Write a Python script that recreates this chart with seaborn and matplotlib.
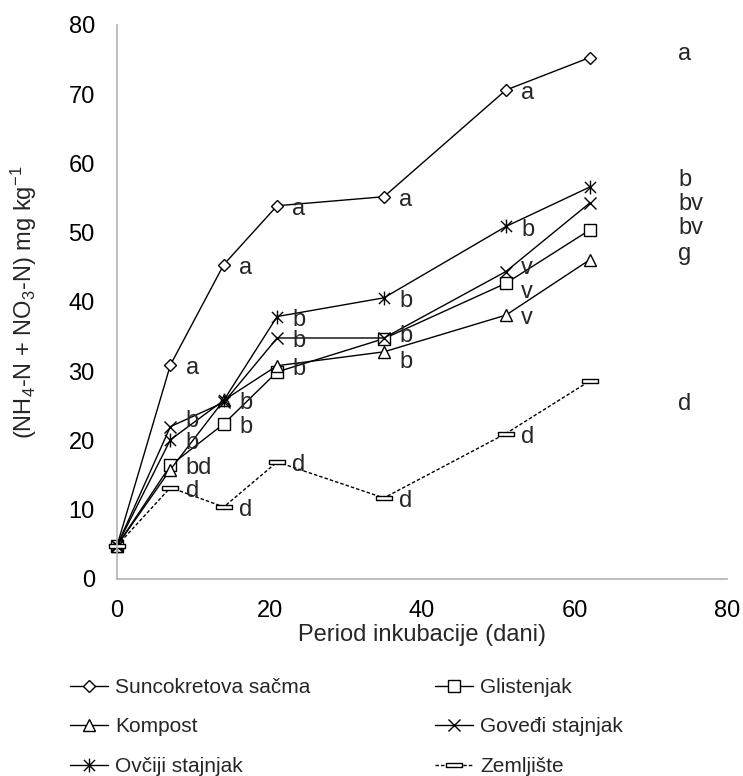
import matplotlib.pyplot as plt
from matplotlib.path import Path
import seaborn as sns

# --- data ---
days = [0, 7, 14, 21, 35, 51, 62]

series_names = ["Suncokretova sačma", "Glistenjak", "Kompost",
                "Goveđi stajnjak", "Ovčiji stajnjak", "Zemljište"]

suncokret = [4.8, 30.9, 45.4, 53.9, 55.2, 70.6, 75.3]
glistenjak = [4.8, 16.4, 22.4, 29.9, 34.7, 42.7, 50.4]
kompost = [4.8, 15.8, 25.8, 30.8, 32.8, 38.1, 46.1]
govedji = [4.8, 22.0, 25.5, 34.8, 34.8, 44.4, 54.3]
ovciji = [4.8, 20.1, 25.8, 37.9, 40.6, 50.9, 56.6]
zemljiste = [4.8, 13.2, 10.4, 16.9, 11.7, 21.0, 28.6]

# significance letters next to the points
letters_suncokret = ["", "a", "a", "a", "a", "a", ""]
letters_glistenjak = ["", "bd", "b", "", "b", "v", ""]
letters_kompost = ["", "", "b", "b", "b", "v", ""]
letters_govedji = ["", "b", "", "b", "", "v", ""]
letters_ovciji = ["", "b", "", "b", "b", "b", ""]
letters_zemljiste = ["", "d", "d", "d", "d", "d", ""]

# letters for the last sampling, written in a column at the right
end_letters = ["a", "b", "bv", "bv", "g", "d"]
end_letter_y = [75.0, 56.7, 53.3, 49.8, 46.1, 24.4]

values = [suncokret, glistenjak, kompost, govedji, ovciji, zemljiste]
letters = [letters_suncokret, letters_glistenjak, letters_kompost,
           letters_govedji, letters_ovciji, letters_zemljiste]

# --- marker shapes ---
asterisk = Path([(-1, -1), (1, 1), (-1, 1), (1, -1), (0, -1.25), (0, 1.25)],
                [Path.MOVETO, Path.LINETO, Path.MOVETO, Path.LINETO,
                 Path.MOVETO, Path.LINETO])
dash_box = Path([(-1, -0.28), (1, -0.28), (1, 0.28), (-1, 0.28), (-1, -0.28)],
                [Path.MOVETO, Path.LINETO, Path.LINETO, Path.LINETO,
                 Path.CLOSEPOLY])

styles = [
    dict(marker="D", markersize=6.5),
    dict(marker="s", markersize=9),
    dict(marker="^", markersize=9),
    dict(marker="x", markersize=8),
    dict(marker=asterisk, markersize=10),
    dict(marker=dash_box, markersize=11, linestyle=(0, (2.5, 1.5))),
]

sns.set_theme(style="white")
plt.rcParams["font.family"] = ["Liberation Sans", "DejaVu Sans"]
plt.rcParams["mathtext.default"] = "regular"

fig, ax = plt.subplots(figsize=(7.43, 7.76), dpi=100)
fig.subplots_adjust(left=0.1575, right=0.9785, top=0.9678, bottom=0.2539)

for name, vals, st in zip(series_names, values, styles):
    sns.lineplot(x=days, y=vals, ax=ax, color="black", linewidth=1.0,
                 markerfacecolor="white", markeredgecolor="black",
                 markeredgewidth=1.0, label=name, clip_on=False, **st)

# per-point letters; a few are shifted (points) so they do not collide
nudge = {(3, 1): 6.5, (3, 5): 5.0, (1, 5): -4.0, (1, 4): 4.0, (2, 4): -5.0}
for i, (vals, labs) in enumerate(zip(values, letters)):
    for j, (d, v, lab) in enumerate(zip(days, vals, labs)):
        if not lab:
            continue
        ax.annotate(lab, (d, v), xytext=(11, -6.5 + nudge.get((i, j), 0)),
                    textcoords="offset points", ha="left", va="baseline",
                    fontsize=17)

for lab, y in zip(end_letters, end_letter_y):
    ax.text(73.6, y, lab, ha="left", va="baseline", fontsize=17)

ax.set_xlim(0, 80)
ax.set_ylim(0, 80)
ax.set_xticks(range(0, 81, 20))
ax.set_yticks(range(0, 81, 10))
ax.tick_params(axis="both", length=0, labelsize=17, colors="black")
ax.tick_params(axis="x", pad=15)
ax.tick_params(axis="y", pad=16)
for side in ["top", "right"]:
    ax.spines[side].set_visible(False)
for side in ["left", "bottom"]:
    ax.spines[side].set_color("#b3b3b3")
    ax.spines[side].set_linewidth(1.2)

ax.set_xlabel("Period inkubacije (dani)", fontsize=17)
ax.set_ylabel("(NH$_4$-N + NO$_3$-N) mg kg$^{-1}$", fontsize=17)
ax.xaxis.set_label_coords(0.5, -0.082)
ax.yaxis.set_label_coords(-0.128, 0.5)

# legend in rows: build column-major order for ncol=2
handles, labels = ax.get_legend_handles_labels()
order = [0, 2, 4, 1, 3, 5]
ax.legend([handles[k] for k in order], [labels[k] for k in order],
          ncol=2, loc="upper left", bbox_to_anchor=(70 / 743, 1 - 678 / 776),
          bbox_transform=fig.transFigure, frameon=False, fontsize=15,
          handlelength=1.8, handletextpad=0.35, labelspacing=0.98,
          columnspacing=6.0, borderpad=0, borderaxespad=0)

fig.savefig("out.png", dpi=100)
